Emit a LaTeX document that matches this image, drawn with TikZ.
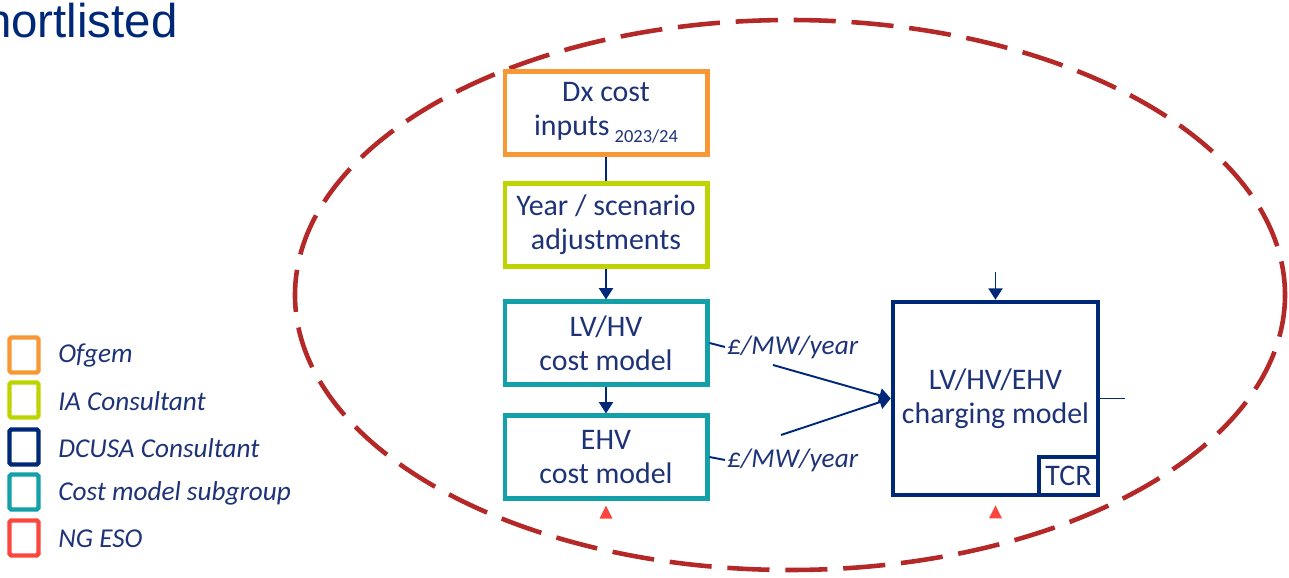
\documentclass[tikz,border=0pt]{standalone}
\usepackage{fontspec}
\setmainfont{Carlito}
\newfontfamily\titlefont{Liberation Sans}
\usetikzlibrary{arrows.meta,calc}
\definecolor{ofgemorange}{RGB}{247,152,52}
\definecolor{ialime}{RGB}{190,212,0}
\definecolor{dcusanavy}{RGB}{0,40,120}
\definecolor{costteal}{RGB}{20,160,168}
\definecolor{esored}{RGB}{250,70,60}
\definecolor{scopered}{RGB}{180,40,40}
\definecolor{textnavy}{RGB}{30,50,120}
\tikzset{
  box/.style={draw=#1,line width=2.3pt,minimum width=4.06cm,minimum height=1.66cm,
    align=center,text=textnavy,font=\fontsize{17}{19.5}\selectfont,inner sep=2pt},
  key/.style={draw=#1,line width=2.5pt,rounded corners=1pt,minimum width=0.58cm,
    minimum height=0.7cm,inner sep=0pt},
  keytext/.style={text=textnavy,font=\fontsize{15.5}{18}\selectfont\itshape,anchor=west,inner sep=0pt},
  conn/.style={draw=dcusanavy,line width=1.1pt},
  tip/.style={conn,-{Triangle[length=6.5pt,width=8pt]}},
  rate/.style={text=textnavy,font=\fontsize{15.5}{18}\selectfont\itshape,inner sep=1pt},
}
\begin{document}
\begin{tikzpicture}[x=0.02cm,y=-0.02cm]
  \useasboundingbox (0,0) rectangle (1289,578);
  \clip (0,0) rectangle (1289,578);
  % heading, cut at the left edge
  \node[anchor=base east,inner sep=0pt,text=dcusanavy,font=\titlefont\fontsize{27}{30}\selectfont]
    (title) at (178,37) {Shortlisted};
  % dashed scope
  \draw[scopered,line width=2.6pt,dash pattern=on 24pt off 9pt]
    (790,295) ellipse [x radius=495,y radius=275];
  % key
  \node[key=ofgemorange] (k1) at (24,355) {};
  \node[keytext] (t1) at (58,355) {Ofgem};
  \node[key=ialime] (k2) at (24,400) {};
  \node[keytext] (t2) at (58,401) {IA Consultant};
  \node[key=dcusanavy] (k3) at (24,447) {};
  \node[keytext] (t3) at (58,448) {DCUSA Consultant};
  \node[key=costteal] (k4) at (24,492) {};
  \node[keytext] (t4) at (58,493) {Cost model subgroup};
  \node[key=esored] (k5) at (24,538) {};
  \node[keytext] (t5) at (58,539) {NG ESO};
  % model chain
  \node[box=ofgemorange] (dx) at (606,113)
    {Dx cost\\inputs\,\raisebox{-4pt}{\fontsize{10.5}{12}\selectfont 2023/24}};
  \node[box=ialime] (year) at (606,225) {Year / scenario\\adjustments};
  \node[box=costteal] (lvhv) at (606,343) {LV/HV\\cost model};
  \node[box=costteal] (ehv) at (606,457) {EHV\\cost model};
  \node[box=dcusanavy,line width=2.6pt,minimum width=4.1cm,minimum height=3.86cm] (chg) at (995.5,398.5)
    {LV/HV/EHV\\charging model};
  \node[draw=dcusanavy,line width=2.6pt,minimum width=1.18cm,minimum height=0.76cm,
    anchor=south east,inner sep=0pt,text=textnavy,font=\fontsize{17}{19}\selectfont]
    (tcr) at (chg.south east) {TCR};
  \draw[conn] (dx.south)--(year.north);
  \draw[tip] (year.south)--(lvhv.north);
  \draw[tip] (lvhv.south)--(ehv.north);
  % rates into the charging model
  \node[rate,anchor=west] (rate1) at (725,347) {£/MW/year};
  \node[rate,anchor=west] (rate2) at (725,460) {£/MW/year};
  \draw[conn] (lvhv.east)--(rate1.west);
  \draw[conn] (ehv.east)--(rate2.west);
  \coordinate (r1) at (773,365);
  \coordinate (r2) at (781,435);
  \draw[tip] (r1)--(chg.west);
  \draw[tip] (r2)--(chg.west);
  \coordinate (chgin) at (995.5,272);
  \coordinate (chgout) at (1125,398.5);
  \draw[tip] (chgin)--(chg.north);
  \draw[conn] (chg.east)--(chgout);
  % ESO inputs
  \fill[esored] ([shift={(-6.5,18)}]ehv.south)--([shift={(6.5,18)}]ehv.south)
    --([shift={(0,5)}]ehv.south)--cycle;
  \fill[esored] ([shift={(-6.5,21)}]chg.south)--([shift={(6.5,21)}]chg.south)
    --([shift={(0,8)}]chg.south)--cycle;
\end{tikzpicture}
\end{document}
